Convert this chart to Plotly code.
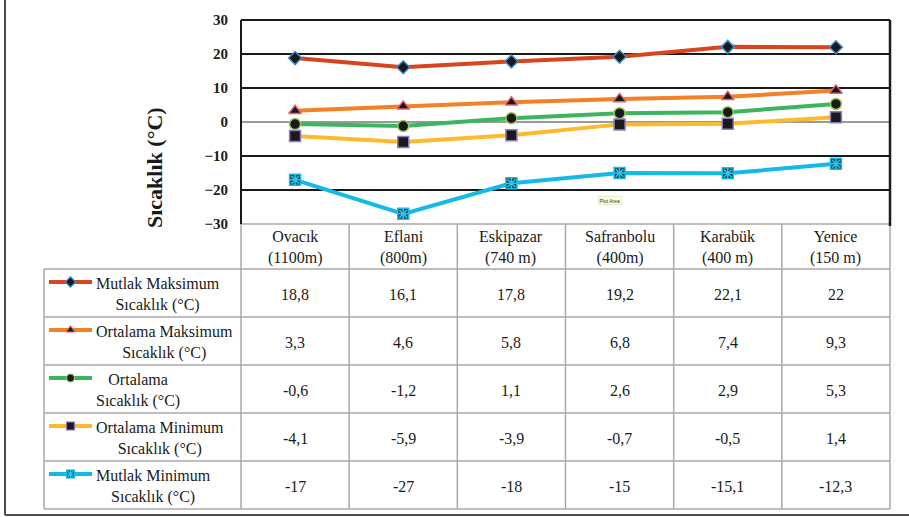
import plotly.graph_objects as go

# ---- data -------------------------------------------------------------
stations = ["Ovacık", "Eflani", "Eskipazar", "Safranbolu", "Karabük", "Yenice"]
elevations = ["(1100m)", "(800m)", "(740 m)", "(400m)", "(400 m)", "(150 m)"]

series_names = [
    "Mutlak Maksimum<br>Sıcaklık (°C)",
    "Ortalama Maksimum<br>Sıcaklık (°C)",
    "Ortalama<br>Sıcaklık (°C)",
    "Ortalama Minimum<br>Sıcaklık (°C)",
    "Mutlak Minimum<br>Sıcaklık (°C)",
]
mutlak_maks = [18.8, 16.1, 17.8, 19.2, 22.1, 22.0]
ortalama_maks = [3.3, 4.6, 5.8, 6.8, 7.4, 9.3]
ortalama = [-0.6, -1.2, 1.1, 2.6, 2.9, 5.3]
ortalama_min = [-4.1, -5.9, -3.9, -0.7, -0.5, 1.4]
mutlak_min = [-17.0, -27.0, -18.0, -15.0, -15.1, -12.3]
series_values = [mutlak_maks, ortalama_maks, ortalama, ortalama_min, mutlak_min]

y_ticks = [-30, -20, -10, 0, 10, 20, 30]

# ---- styling ----------------------------------------------------------
W, H = 909, 517
SERIF = "Liberation Serif"
GRID = "#a8a8a8"
INK = "#1a1a1a"
STAR = "#22C8F0"

line_colors = ["#D9431E", "#F28128", "#3BB560", "#FDBA2C", "#14B9EA"]
marker_symbols = ["diamond", "triangle-up", "circle", "square", "square"]
marker_fills = [INK, INK, INK, INK, "#1E3F4C"]
marker_edges = ["#3D8FD0", "#E0606A", "#9BC85A", "#8E7CC3", "#1CB8E8"]
marker_sizes = [10, 11, 11, 11, 11]


def px(x):
    return x / W


def py(y):
    return 1 - y / H


# plot-area box (pixels)
PL, PR, PT, PB = 241, 890, 20, 224
col_w = (PR - PL) / len(stations)
col_edges = [PL + i * col_w for i in range(len(stations) + 1)]
HEADER_BOTTOM = 269
ROW_H = 48
row_edges = [HEADER_BOTTOM + i * ROW_H for i in range(len(series_names) + 1)]
LEG_L = 44

fig = go.Figure()

# ---- line series --------------------------------------------------------
x_idx = list(range(len(stations)))
for i, (name, vals) in enumerate(zip(series_names, series_values)):
    fig.add_trace(go.Scatter(
        x=x_idx, y=vals, mode="lines+markers", name=name.replace("<br>", " "),
        line=dict(color=line_colors[i], width=4),
        marker=dict(symbol=marker_symbols[i], size=marker_sizes[i],
                    color=marker_fills[i],
                    line=dict(color=marker_edges[i], width=1.5)),
        xaxis="x", yaxis="y", showlegend=False, cliponaxis=False,
    ))
# asterisk overlay on the Mutlak Minimum markers
fig.add_trace(go.Scatter(
    x=x_idx, y=mutlak_min, mode="markers",
    marker=dict(symbol="asterisk-open", size=9, color=STAR,
                line=dict(color=STAR, width=1.5)),
    xaxis="x", yaxis="y", showlegend=False, hoverinfo="skip", cliponaxis=False,
))

# ---- legend keys inside the data table (pixel-space overlay axes) -------
for i in range(len(series_names)):
    ky = row_edges[i] + 13
    fig.add_trace(go.Scatter(
        x=[49, 92], y=[ky, ky], mode="lines",
        line=dict(color=line_colors[i], width=4),
        xaxis="x2", yaxis="y2", showlegend=False, hoverinfo="skip",
    ))
    fig.add_trace(go.Scatter(
        x=[70.5], y=[ky], mode="markers",
        marker=dict(symbol=marker_symbols[i], size=8, color=marker_fills[i],
                    line=dict(color=marker_edges[i], width=1.2)),
        xaxis="x2", yaxis="y2", showlegend=False, hoverinfo="skip",
    ))
fig.add_trace(go.Scatter(
    x=[70.5], y=[row_edges[4] + 13], mode="markers",
    marker=dict(symbol="asterisk-open", size=7, color=STAR,
                line=dict(color=STAR, width=1.2)),
    xaxis="x2", yaxis="y2", showlegend=False, hoverinfo="skip",
))

shapes = []


def hline(y, x0, x1, color, width):
    shapes.append(dict(type="line", xref="paper", yref="paper",
                       x0=px(x0), x1=px(x1), y0=py(y), y1=py(y),
                       line=dict(color=color, width=width), layer="above"))


def vline(x, y0, y1, color, width):
    shapes.append(dict(type="line", xref="paper", yref="paper",
                       x0=px(x), x1=px(x), y0=py(y0), y1=py(y1),
                       line=dict(color=color, width=width), layer="above"))


# data table grid
hline(PB, PL, PR, GRID, 1.5)
for y in row_edges:
    hline(y, LEG_L, PR, GRID, 1.5)
for x in col_edges:
    vline(x, PB, row_edges[-1], GRID, 1.5)
vline(LEG_L, HEADER_BOTTOM, row_edges[-1], GRID, 1.5)

# plot-area border
hline(PT, PL, PR, INK, 2)
vline(PL, PT, PB, INK, 2)
vline(PR, PT, PB + 2, INK, 2.5)

# outer frame
vline(5, 0, 515, "#4d4d4d", 2)
hline(515, 5, W, "#4d4d4d", 2)

annotations = []
# station header
for i, (s, e) in enumerate(zip(stations, elevations)):
    annotations.append(dict(
        x=i, xref="x", y=py((PB + HEADER_BOTTOM) / 2 + 1), yref="paper",
        text=f"{s}<br>{e}", showarrow=False, align="center",
        font=dict(family=SERIF, size=16, color=INK),
        xanchor="center", yanchor="middle",
    ))

# table values and legend labels
for r, (name, vals) in enumerate(zip(series_names, series_values)):
    yc = (row_edges[r] + row_edges[r + 1]) / 2 + 1
    for c, v in enumerate(vals):
        annotations.append(dict(
            x=c, xref="x", y=py(yc), yref="paper",
            text=f"{v:g}".replace(".", ","), showarrow=False,
            font=dict(family=SERIF, size=16, color=INK),
            xanchor="center", yanchor="middle",
        ))
    annotations.append(dict(
        x=px(94), xref="paper", y=py(yc), yref="paper",
        text=name, showarrow=False, align="center",
        font=dict(family=SERIF, size=16, color=INK),
        xanchor="left", yanchor="middle",
    ))

# y-axis title
annotations.append(dict(
    x=px(155), xref="paper", y=py(168), yref="paper",
    text="<b>Sıcaklık (°C)</b>", textangle=-90, showarrow=False,
    font=dict(family=SERIF, size=22, color=INK),
    xanchor="center", yanchor="middle",
))

# hover tip left on the plot area
annotations.append(dict(
    x=px(610), xref="paper", y=py(200), yref="paper",
    text="Plot Area", showarrow=False,
    font=dict(family="Liberation Sans", size=5, color="#333333"),
    bgcolor="#FFFFE1", bordercolor="#D8D8B0", borderwidth=0.5, borderpad=1,
    xanchor="center", yanchor="middle",
))

fig.update_layout(
    template="none",
    width=W, height=H, autosize=False,
    margin=dict(l=0, r=0, t=0, b=0, pad=0, autoexpand=False),
    paper_bgcolor="white",
    plot_bgcolor="rgba(0,0,0,0)",
    font=dict(family=SERIF, color=INK),
    shapes=shapes,
    annotations=annotations,
    xaxis=dict(
        domain=[px(PL), px(PR)], range=[-0.5, len(stations) - 0.5],
        showgrid=False, zeroline=False, showticklabels=False, ticks="",
        showline=False, fixedrange=True, automargin=False,
    ),
    yaxis=dict(
        domain=[py(PB), py(PT)], range=[-30, 30],
        tickvals=y_ticks, ticks="", ticklabelstandoff=12,
        tickfont=dict(family=SERIF, size=15, color=INK, weight="bold"),
        showgrid=True, gridcolor=INK, gridwidth=1.5,
        zeroline=True, zerolinecolor="#9a9a9a", zerolinewidth=1.5,
        showline=False, fixedrange=True, automargin=False,
    ),
    xaxis2=dict(domain=[0, 1], range=[0, W], visible=False, fixedrange=True,
                anchor="y2"),
    yaxis2=dict(domain=[0, 1], range=[H, 0], visible=False, fixedrange=True,
                anchor="x2"),
)

fig.write_html("out.html")
